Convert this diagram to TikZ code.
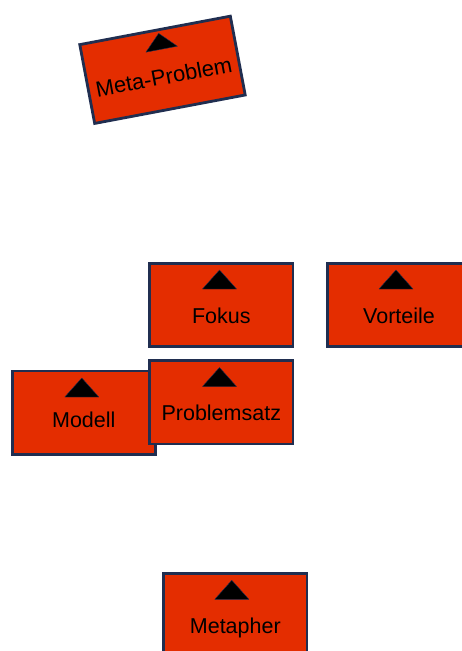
\documentclass[tikz,border=0pt]{standalone}
\usepackage{fontspec}
\setmainfont{Liberation Sans}
\definecolor{cardred}{RGB}{228,45,0}
\definecolor{cardnavy}{RGB}{32,46,80}
\begin{document}
\begin{tikzpicture}[x=1pt,y=-1pt,
  cardbox/.style={draw=cardnavy, line width=2.8pt, fill=cardred,
    minimum width=143.2pt, minimum height=83.2pt, inner sep=0pt,
    text height=36pt, text depth=0pt, font=\fontsize{21.5}{24}\selectfont},
  cardtri/.style={fill=black, draw=cardnavy, line width=0.4pt, line join=round}]
\useasboundingbox (0,0) rectangle (462,651);
\clip (0,0) rectangle (462,651);
\fill[white] (0,0) rectangle (462,651);

% Meta-Problem (rotated)
\begin{scope}[shift={(162.5,69.8)}, rotate=10.7, transform shape]
  \node[cardbox, minimum width=153.2pt, minimum height=80.2pt, text height=30pt,
        font=\fontsize{22}{24}\selectfont] (metaproblem) at (0,0) {Meta-Problem};
  \path[cardtri] (3,-36.5) -- (-13,-20.4) -- (19,-20.4) -- cycle;
\end{scope}

% Fokus
\node[cardbox] (fokus) at (221.3,305) {Fokus};
\path[cardtri] (fokus.center) ++(-1.8,-35) -- ++(-17,19) -- ++(34,0) -- cycle;

% Vorteile
\node[cardbox] (vorteile) at (399,305) {Vorteile};
\path[cardtri] (vorteile.center) ++(-3,-35) -- ++(-17,19) -- ++(34,0) -- cycle;

% Modell
\node[cardbox, text height=29pt] (modell) at (83.8,412.5) {Modell};
\path[cardtri] (modell.center) ++(-2,-34.5) -- ++(-17,19) -- ++(34,0) -- cycle;

% Problemsatz
\node[cardbox] (problemsatz) at (221.3,402.3) {Problemsatz};
\path[cardtri] (problemsatz.center) ++(-1.8,-34.8) -- ++(-17,19) -- ++(34,0) -- cycle;

% Metapher
\node[cardbox] (metapher) at (235.3,615.3) {Metapher};
\path[cardtri] (metapher.center) ++(-3.5,-35) -- ++(-17,19) -- ++(34,0) -- cycle;
\end{tikzpicture}
\end{document}
